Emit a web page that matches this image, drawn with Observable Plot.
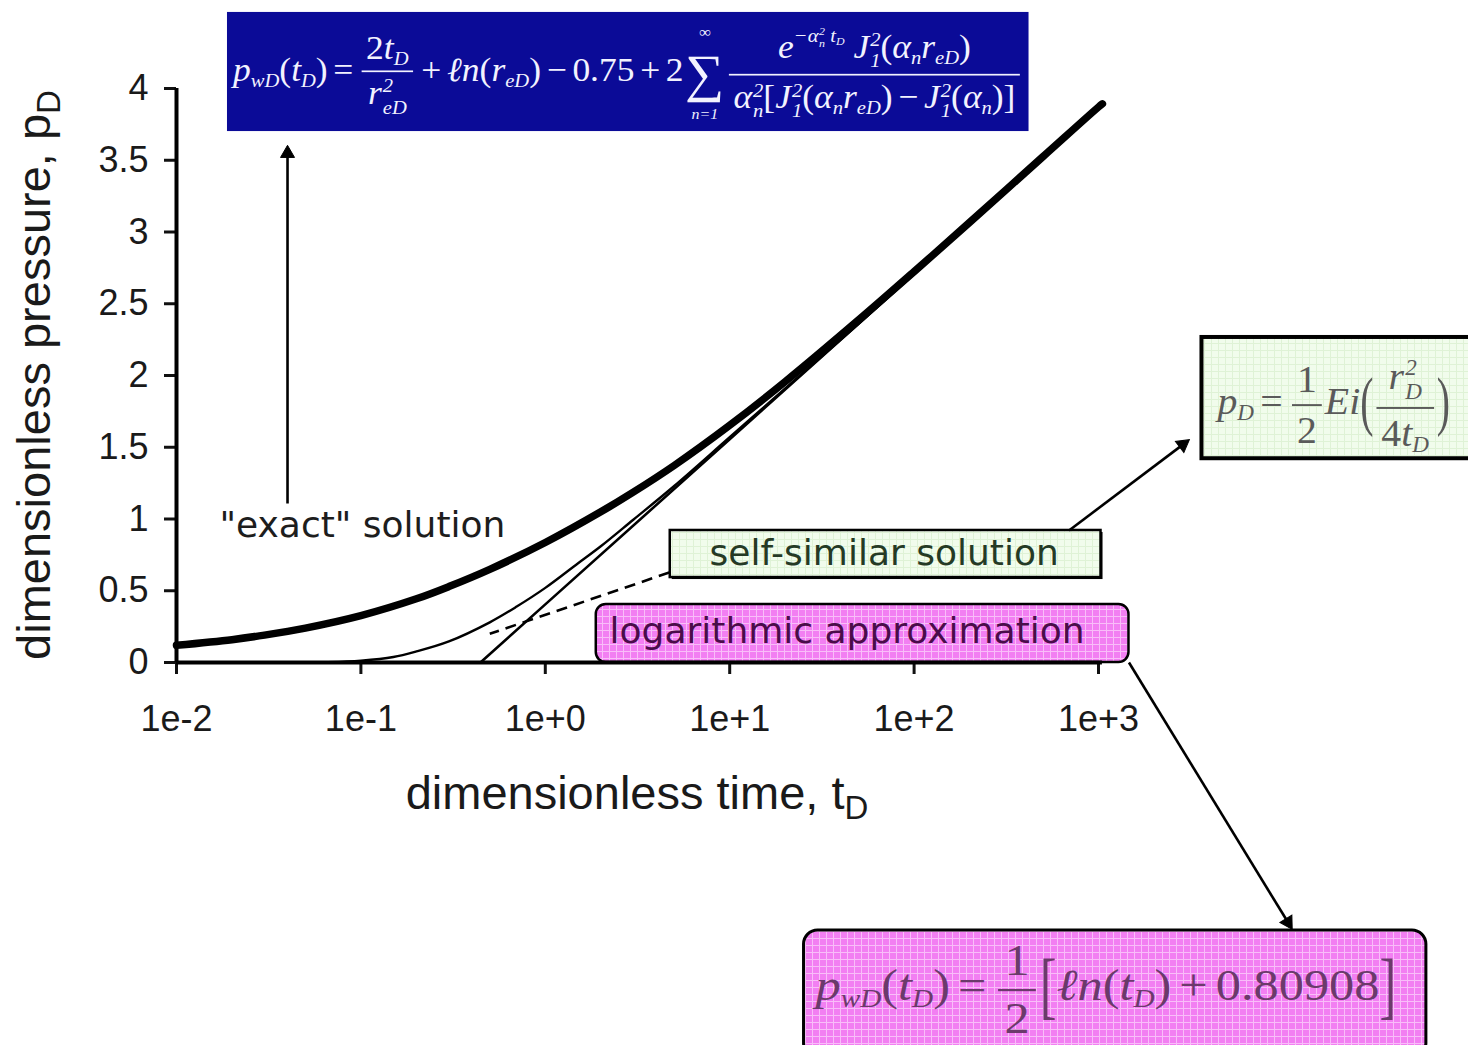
<!DOCTYPE html>
<html>
<head>
<meta charset="utf-8">
<script src="https://cdn.jsdelivr.net/npm/d3@7"></script>
<script src="https://cdn.jsdelivr.net/npm/@observablehq/plot@0.6"></script>
<style>
  body { margin: 0; background: #fff; }
  #chart { position: relative; width: 1468px; height: 1045px; overflow: hidden; background: #fff; }
  #chart svg { display: block; }
  .eq { position: absolute; left: 0; top: 0; transform-origin: 0 0; white-space: nowrap;
        font-family: "Liberation Serif", "DejaVu Serif", serif; font-style: italic; line-height: 1.1;
        display: inline-block; }
  .eq sub, .eq sup { font-size: 0.58em; line-height: 0; }
  .eq sub { vertical-align: -0.3em; }
  .eq sup { vertical-align: 0.8em; }
  .eq .u { font-style: normal; }
  .eq .op { font-style: normal; margin: 0 0.16em; }
  .eq .frac { display: inline-block; vertical-align: middle; text-align: center; margin: 0 0.08em; }
  .eq .frac > span { display: block; padding: 0 0.12em; }
  .eq .frac > .n { border-bottom: 0.06em solid currentColor; padding-bottom: 0.1em; }
  .eq .frac > .d { padding-top: 0.08em; }
  .eq .ss { display: inline-block; vertical-align: middle; font-size: 0.58em; line-height: 1.05; text-align: left; margin-left: 0.05em; }
  .eq .ss > span { display: block; }
  .eq .sum { display: inline-block; vertical-align: middle; text-align: center; line-height: 1; margin: 0 0.05em; }
  .eq .sum .sig { display: block; font-size: 1.55em; font-style: normal; line-height: 1; }
  .eq .sum .lim { display: block; font-size: 0.45em; line-height: 1; margin: 0.45em 0; }
  .eq .big { font-style: normal; display: inline-block; transform: scaleY(1.7); }
</style>
</head>
<body>
<svg width="0" height="0" style="position:absolute">
  <defs>
    <pattern id="pinkGrid" width="7" height="7" patternUnits="userSpaceOnUse">
      <rect width="7" height="7" fill="#f27ff2"></rect>
      <path d="M0 0.5H7M0.5 0V7" stroke="#f9bdf9" stroke-width="1"></path>
    </pattern>
    <pattern id="greenGrid" width="7" height="7" patternUnits="userSpaceOnUse">
      <rect width="7" height="7" fill="#f1fcec"></rect>
      <path d="M0 0.5H7M0.5 0V7" stroke="#dff2d6" stroke-width="1"></path>
    </pattern>
  </defs>
</svg>
<div id="chart"></div>
<script>
// ---- axes -------------------------------------------------------------
const xTicks = [0.01, 0.1, 1, 10, 100, 1000];
const xTickLabels = ["1e-2", "1e-1", "1e+0", "1e+1", "1e+2", "1e+3"];
const yTicks = [0, 0.5, 1, 1.5, 2, 2.5, 3, 3.5, 4];

// ---- "exact" solution (bounded reservoir) -----------------------------
const exactT = [0.01, 0.02, 0.03, 0.05, 0.1, 0.2, 0.3, 0.5, 1, 2, 3, 5, 10, 20, 50, 100, 200, 500, 1000, 1050];
const exactP = [0.12, 0.159, 0.191, 0.240, 0.327, 0.444, 0.529, 0.649, 0.836, 1.050, 1.187, 1.373, 1.653, 1.957, 2.387, 2.724, 3.067, 3.525, 3.871, 3.893];

// ---- self-similar (line source) solution ------------------------------
const selfSimT = [0.06, 0.08, 0.1, 0.15, 0.2, 0.3, 0.5, 0.7, 1, 1.5, 2, 3, 5, 10, 20, 50, 100, 200, 500, 1000, 1050];
const selfSimP = [0.002, 0.006, 0.012, 0.038, 0.077, 0.147, 0.28, 0.39, 0.52, 0.69, 0.81, 0.995, 1.23, 1.57, 1.91, 2.36, 2.71, 3.05, 3.51, 3.86, 3.88];

// ---- logarithmic approximation ----------------------------------------
const logT = [0.445, 1, 10, 100, 1000, 1050];
const logP = [0, 0.405, 1.556, 2.707, 3.858, 3.882];

// ---- annotation boxes (data units) ------------------------------------
const boxNames = ["exactEq", "eiEq", "selfSim", "logApprox", "logEq"];
const boxT1 = [0.0189, 3640, 4.76, 1.89, 25.3];
const boxT2 = [420, 120000, 1032, 1463, 60000];
const boxP1 = [3.70, 1.42, 0.592, 0, -2.75];
const boxP2 = [4.53, 2.265, 0.920, 0.404, -1.868];

// ---- text labels --------------------------------------------------------
const labelText = ["\"exact\" solution", "self-similar solution", "logarithmic approximation"];
const labelT = [0.1019, 68.8, 43.3];
const labelP = [0.955, 0.76, 0.216];

// ---- arrows and leader line ---------------------------------------------
const arrowT1 = [0.040, 692, 1463];
const arrowP1 = [1.108, 0.920, 0.0];
const arrowT2 = [0.040, 3090, 11190];
const arrowP2 = [3.60, 1.55, -1.855];
const leaderT = [4.70, 0.50];
const leaderP = [0.627, 0.20];

// ---- build tables -------------------------------------------------------
const series = (ts, ps) => ts.map((t, i) => ({t, p: ps[i]}));
const exact = series(exactT, exactP);
const selfSim = series(selfSimT, selfSimP);
const logApprox = series(logT, logP);
const boxes = boxNames.map((name, i) => ({name, x1: boxT1[i], x2: boxT2[i], y1: boxP1[i], y2: boxP2[i]}));
const box = name => boxes.filter(b => b.name === name);
const labels = labelText.map((text, i) => ({text, t: labelT[i], p: labelP[i]}));
const leader = [{x1: leaderT[0], y1: leaderP[0], x2: leaderT[1], y2: leaderP[1]}];

const W = 1468, H = 1045;
const M = {top: 88, right: 370, bottom: 383, left: 176};
const xDomain = [0.01, 1000], yDomain = [0, 4];

// pixel scales, used to place the filled arrowheads
const xs = Plot.scale({x: {type: "log", domain: xDomain, range: [M.left, W - M.right]}});
const ys = Plot.scale({y: {type: "linear", domain: yDomain, range: [H - M.bottom, M.top]}});
const headBack = 7.5;
const arrows = arrowT1.map((t1, i) => {
  const px1 = xs.apply(t1), py1 = ys.apply(arrowP1[i]);
  const px2 = xs.apply(arrowT2[i]), py2 = ys.apply(arrowP2[i]);
  const len = Math.hypot(px2 - px1, py2 - py1);
  const ux = (px2 - px1) / len, uy = (py2 - py1) / len;
  const hx = px2 - ux * headBack, hy = py2 - uy * headBack;
  return {
    x1: t1, y1: arrowP1[i],
    hx: xs.invert(hx), hy: ys.invert(hy),
    angle: Math.atan2(ux, -uy) * 180 / Math.PI
  };
});

const sansAxis = "'Liberation Sans', Arial, sans-serif";
const sansLabel = "'DejaVu Sans', Verdana, sans-serif";

const chart = Plot.plot({
  width: W, height: H,
  marginTop: M.top, marginRight: M.right, marginBottom: M.bottom, marginLeft: M.left,
  x: {type: "log", domain: xDomain},
  y: {domain: yDomain},
  style: {fontFamily: sansAxis, background: "transparent", color: "#111"},
  marks: [
    // boxes
    Plot.rect(box("exactEq"), {x1: "x1", x2: "x2", y1: "y1", y2: "y2", fill: "#0b0b97"}),
    Plot.rect(box("eiEq"), {x1: "x1", x2: "x2", y1: "y1", y2: "y2", fill: "url(#greenGrid)", stroke: "#000", strokeWidth: 4}),
    Plot.rect(box("selfSim"), {x1: "x1", x2: "x2", y1: "y1", y2: "y2", fill: "#000", dx: 2, dy: 2}),
    Plot.rect(box("selfSim"), {x1: "x1", x2: "x2", y1: "y1", y2: "y2", fill: "url(#greenGrid)", stroke: "#000", strokeWidth: 2.5}),
    Plot.rect(box("logApprox"), {x1: "x1", x2: "x2", y1: "y1", y2: "y2", fill: "url(#pinkGrid)", stroke: "#000", strokeWidth: 2.5, rx: 10}),
    Plot.rect(box("logEq"), {x1: "x1", x2: "x2", y1: "y1", y2: "y2", fill: "url(#pinkGrid)", stroke: "#000", strokeWidth: 3, rx: 14}),

    // curves
    Plot.line(logApprox, {x: "t", y: "p", stroke: "#000", strokeWidth: 2.6}),
    Plot.line(selfSim, {x: "t", y: "p", stroke: "#000", strokeWidth: 2.4, curve: "catmull-rom"}),
    Plot.line(exact, {x: "t", y: "p", stroke: "#000", strokeWidth: 7.5, curve: "catmull-rom"}),

    // leader line and arrows
    Plot.link(leader, {x1: "x1", y1: "y1", x2: "x2", y2: "y2", stroke: "#000", strokeWidth: 2.6, strokeDasharray: "11,7"}),
    Plot.link(arrows, {x1: "x1", y1: "y1", x2: "hx", y2: "hy", stroke: "#000", strokeWidth: 2.6}),
    Plot.dot(arrows, {x: "hx", y: "hy", symbol: "triangle", r: 5.2, fill: "#000", stroke: "#000", strokeWidth: 1, rotate: "angle"}),

    // labels
    Plot.text(labels.slice(0, 1), {x: "t", y: "p", text: "text", fontFamily: sansLabel, fontSize: 36, fill: "#1d1d1d"}),
    Plot.text(labels.slice(1, 2), {x: "t", y: "p", text: "text", fontFamily: sansLabel, fontSize: 36, fill: "#253a25"}),
    Plot.text(labels.slice(2, 3), {x: "t", y: "p", text: "text", fontFamily: sansLabel, fontSize: 36, fill: "#4a0c4a"}),

    // axes
    Plot.axisY({ticks: yTicks, tickFormat: d => String(d), tickSize: 12, tickPadding: 16, fontSize: 36,
                strokeWidth: 3, label: null, fontFamily: sansAxis, fill: "#1a1a1a"}),
    Plot.axisX({ticks: xTicks, tickFormat: d => xTickLabels[xTicks.indexOf(d)], tickSize: 12, tickPadding: 31,
                fontSize: 36, strokeWidth: 3, label: null, fontFamily: sansAxis, fill: "#1a1a1a"}),
    Plot.ruleX([xDomain[0]], {y1: yDomain[0], y2: yDomain[1], stroke: "#000", strokeWidth: 4}),
    Plot.ruleY([yDomain[0]], {x1: xDomain[0], x2: 1050, stroke: "#000", strokeWidth: 4})
  ]
});

const root = document.getElementById("chart");
root.appendChild(chart);

// axis titles with subscripts
const svg = d3.select(chart);
const xr = chart.scale("x").range, yr = chart.scale("y").range;
const xt = svg.append("text")
  .attr("x", (xr[0] + xr[1]) / 2).attr("y", 809)
  .attr("text-anchor", "middle").attr("font-family", sansAxis).attr("font-size", 47).attr("fill", "#1a1a1a")
  .text("dimensionless time, t");
xt.append("tspan").attr("font-size", 33).attr("dy", 10).text("D");
const yt = svg.append("text")
  .attr("transform", `translate(50,${(yr[0] + yr[1]) / 2}) rotate(-90)`)
  .attr("text-anchor", "middle").attr("font-family", sansAxis).attr("font-size", 47).attr("fill", "#1a1a1a")
  .text("dimensionless pressure, p");
yt.append("tspan").attr("font-size", 33).attr("dy", 10).text("D");

// equations, set as HTML and stretched into their boxes
const sx = chart.scale("x"), sy = chart.scale("y");
function placeEquation(name, html, color, pad) {
  const b = boxes.find(d => d.name === name);
  const left = sx.apply(b.x1) + pad[3];
  const right = Math.min(sx.apply(b.x2), W - 12) - pad[1];
  const top = sy.apply(b.y2) + pad[0];
  const bottom = Math.min(sy.apply(b.y1), H) - pad[2];
  const el = document.createElement("div");
  el.className = "eq";
  el.style.color = color;
  el.style.fontSize = "40px";
  el.innerHTML = html;
  root.appendChild(el);
  const w = el.offsetWidth, h = el.offsetHeight;
  el.style.transform = `translate(${left}px,${top}px) scale(${(right - left) / w},${(bottom - top) / h})`;
}

const ss = (a, b) => `<span class="ss"><span>${a}</span><span>${b}</span></span>`;
const frac = (n, d, cls = "") => `<span class="frac ${cls}"><span class="n">${n}</span><span class="d">${d}</span></span>`;

placeEquation("exactEq",
  `<i>p</i><sub>wD</sub><span class="u">(</span><i>t</i><sub>D</sub><span class="u">)</span><span class="op">=</span>` +
  frac(`<span class="u">2</span><i>t</i><sub>D</sub>`, `<i>r</i>${ss("2", "eD")}`) +
  `<span class="op">+</span><i>ℓn</i><span class="u">(</span><i>r</i><sub>eD</sub><span class="u">)</span><span class="op">−</span><span class="u">0.75</span><span class="op">+</span><span class="u">2</span>` +
  `<span class="sum"><span class="lim">∞</span><span class="sig">∑</span><span class="lim">n=1</span></span>` +
  frac(`<i>e</i><sup>−<i>α</i>${ss("2", "n")} <i>t</i><sub>D</sub></sup>&nbsp;<i>J</i>${ss("2", "1")}<span class="u">(</span><i>α</i><sub>n</sub><i>r</i><sub>eD</sub><span class="u">)</span>`,
       `<i>α</i>${ss("2", "n")}<span class="u">[</span><i>J</i>${ss("2", "1")}<span class="u">(</span><i>α</i><sub>n</sub><i>r</i><sub>eD</sub><span class="u">)</span><span class="op">−</span><i>J</i>${ss("2", "1")}<span class="u">(</span><i>α</i><sub>n</sub><span class="u">)</span><span class="u">]</span>`),
  "#f2f2ff", [6, 6, 3, 6]);

placeEquation("eiEq",
  `<i>p</i><sub>D</sub><span class="op">=</span>` + frac("1", "2", "u") +
  `<i>Ei</i><span class="big">(</span>` + frac(`<i>r</i>${ss("2", "D")}`, `<span class="u">4</span><i>t</i><sub>D</sub>`) +
  `<span class="big">)</span>`,
  "#5a5a5a", [18, 6, 4, 16]);

placeEquation("logEq",
  `<i>p</i><sub>wD</sub><span class="u">(</span><i>t</i><sub>D</sub><span class="u">)</span><span class="op">=</span>` + frac("1", "2", "u") +
  `<span class="big">[</span><i>ℓn</i><span class="u">(</span><i>t</i><sub>D</sub><span class="u">)</span><span class="op">+</span><span class="u">0.80908</span><span class="big">]</span>`,
  "#6b3a6b", [6, 30, 2, 12]);
</script>
</body>
</html>
